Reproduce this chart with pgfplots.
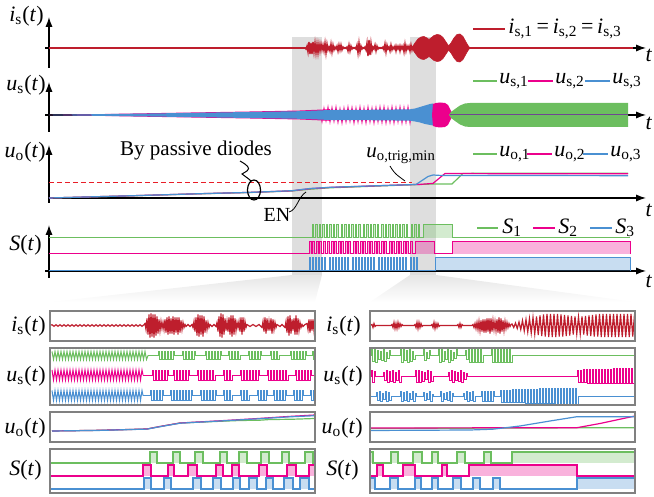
\documentclass[border=0pt]{standalone}
\usepackage{fontspec}
\setmainfont{Liberation Serif}
\usepackage{pgfplots}
\pgfplotsset{compat=1.18}
\usetikzlibrary{arrows.meta}
\definecolor{cred}{RGB}{190,30,45}
\definecolor{cgreen}{RGB}{108,190,95}
\definecolor{cpink}{RGB}{236,0,140}
\definecolor{cblue}{RGB}{74,144,210}
\definecolor{hl}{RGB}{222,222,222}
\definecolor{framegray}{RGB}{128,128,128}
\definecolor{dashred}{RGB}{232,30,40}
\newcommand{\vi}[1]{\textit{#1}}
\newcommand{\sub}[1]{\textsubscript{#1}}
\pgfplotsset{
  topax/.style={scale only axis, width=298.5pt, xmin=49, xmax=646, clip=false, no markers,
    axis x line*=middle, axis y line*=left, xtick=\empty, ytick=\empty,
    axis line style={line width=0.6pt, -{Latex[length=5pt,width=3.6pt]}},
    anchor=south west},
  botax/.style={scale only axis, width=132.5pt, clip=false, hide axis, no markers, anchor=south west},
}
\begin{document}
\begin{tikzpicture}[x=0.5pt,y=-0.5pt,font=\fontsize{11}{13}\selectfont]
\useasboundingbox (0,0) rectangle (654,497);
% highlight regions and fans
\fill[hl] (292,37) rectangle (322,275);
\fill[hl] (410,37) rectangle (436,275);
\shade[top color=black!10, bottom color=white] (292,275) -- (322,275) -- (315,302) -- (50,302) -- cycle;
\shade[top color=black!10, bottom color=white] (410,275) -- (436,275) -- (635,302) -- (370,302) -- cycle;

% ---------------- top: i_s
\begin{axis}[topax, at={(24.5pt,-34pt)}, height=25.5pt, ymin=-20, ymax=31]
\addplot[cred, line width=0.9pt] coordinates {(49,0)(633,0)};
\addplot[cred, line width=0.7pt] coordinates {(305,0.5)(306,-1)(307,2)(308,-4)(309,6)(310,-6)(311,5)(312,-6)(313,6)(314,-4)(315,5)(316,-5)(317,4)(318,-5)(319,4)(320,-3)(321,4)(322,-2)(323,3)(324,-3)(325,5)(326,-5)(327,4)(328,-2)(329,1)(330,-3)(331,4)(332,-4)(333,3)(334,-2)(335,1)(336,-1)(337,2)(338,-3)(339,3)(340,-2)(341,3)(342,-2)(343,1)(344,-0.5)(345,0.5)(346,-0.5)(347,1)(348,-3)(349,3)(350,-3)(351,2)(352,-1)(353,0.5)(354,-0.5)(355,0.5)(356,-1)(357,3)(358,-5)(359,5)(360,-4)(361,2)(362,-1)(363,0.5)(364,-0.5)(365,1)(366,-2)(367,5)(368,-8)(369,8)(370,-7)(371,5)(372,-3)(373,1)(374,-1)(375,3)(376,-3)(377,2)(378,-1)(379,0.5)(380,-0.5)(381,0.5)(382,-0.5)(383,1)(384,-2)(385,4)(386,-4)(387,3)(388,-1)(389,1)(390,-3)(391,3)(392,-2)(393,1)(394,-1)(395,2)(396,-3)(397,2)(398,-1)(399,2)(400,-3)(401,2)(402,-1)(403,2)(404,-4)(405,4)(406,-3)(407,2)(408,-1)(409,2)(410,-3)(411,3)(412,-2)(413,2)};
\addplot[draw=cred, fill=cred, line width=0.3pt] coordinates {(411,0)(413,2)(415,5)(418,9)(421,11)(424,11.5)(427,10)(429,8.5)(431,10)(434,12.5)(437,13.5)(440,13)(443,10.5)(446,6)(448,3)(449,2.5)(451,5)(454,10)(457,13.5)(460,14)(463,11.5)(466,6)(468,2.5)(470,0)(468,-2.5)(466,-6)(463,-11.5)(460,-14)(457,-13.5)(454,-10)(451,-5)(449,-2.5)(448,-3)(446,-6)(443,-10.5)(440,-13)(437,-13.5)(434,-12.5)(431,-10)(429,-8.5)(427,-10)(424,-11.5)(421,-11)(418,-9)(415,-5)(413,-2)(411,0)};
\end{axis}

% ---------------- top: u_s
\begin{axis}[topax, at={(24.5pt,-66pt)}, height=25pt, ymin=-17, ymax=33]
\addplot[fill=cpink, draw=none] coordinates {(49,0)(150,1.8)(250,3.5)(300,4.5)(330,5.8)(330,-5.8)(300,-4.5)(250,-3.5)(150,-1.8)(49,0)};
\addplot[cpink, line width=0.6pt] coordinates {(320,5)(322,-6)(324,6)(326,-5)(328,7)(330,-6)(332,6.5)(334,-5.5)(336,7)(338,-6.5)(340,5.5)(342,-7)(344,6)(346,-6)(348,7)(350,-5.5)(352,6.5)(354,-7)(356,6)(358,-6)(360,7)(362,-6.5)(364,6)(366,-7)(368,7)(370,-6)(372,6)(374,-7)(376,6.5)(378,-6)(380,7)(382,-6.5)(384,7)(386,-7)(388,6)(390,-6.5)(392,7)(394,-7)(396,6.5)(398,-6)(400,7)(402,-7)(404,6.5)(406,-6.5)(408,7)(410,-7)(412,6)};
\addplot[fill=cblue, draw=none] coordinates {(49,0.2)(150,1.5)(250,3)(300,3.8)(330,5)(380,5.3)(410,5.7)(415,6.5)(420,8)(425,9.5)(430,11)(433,11.5)(433,-10.5)(430,-10)(425,-9)(420,-7.5)(415,-6.5)(410,-5.7)(380,-5.3)(330,-5)(300,-3.8)(250,-3)(150,-1.5)(49,-0.2)};
\addplot[fill=cpink, draw=none] coordinates {(432,0)(433,11)(436,12)(440,12.5)(445,12)(448,10)(450,6)(452,2)(452,-2)(450,-6)(448,-10)(445,-12)(440,-12.5)(436,-12)(433,-11)};
\addplot[fill=cgreen, draw=none] coordinates {(449,0)(451,3)(455,6)(460,9.5)(465,11.5)(470,12)(628,12)(628,-12)(470,-12)(465,-11.5)(460,-9.5)(455,-6)(451,-3)};
\addplot[color=cblue!60!cpink!80!black, line width=0.5pt] coordinates {(450,0)(628,0)};
\end{axis}

% ---------------- top: u_o
\begin{axis}[topax, at={(24.5pt,-101.5pt)}, height=29pt, ymin=-5, ymax=53]
\addplot[dashred, line width=0.6pt, dash pattern=on 2.4pt off 1.6pt] coordinates {(49,15.7)(412,15.7)};
\addplot[cgreen, line width=0.6pt] coordinates {(49,0)(133,2.2)(200,4.2)(250,5.5)(292,7)(310,8.8)(330,10.2)(360,11.3)(400,12.8)(433,14)(452,14)(463,24.6)(500,24.8)(628,24.8)};
\addplot[cpink, line width=0.6pt] coordinates {(49,0)(133,2.3)(200,4.3)(250,5.6)(292,7.2)(310,9.3)(330,10.6)(360,11.6)(400,13)(420,13.6)(433,14.6)(445,24.5)(500,24.3)(628,24.2)};
\addplot[cblue, line width=0.6pt] coordinates {(49,0)(133,2.3)(200,4.3)(250,5.6)(292,7.3)(310,9.5)(330,10.7)(360,11.7)(400,13)(416,13.5)(428,21.5)(433,23)(440,22.6)(628,22.3)};
\end{axis}

% ---------------- top: S
\begin{axis}[topax, at={(24.5pt,-139pt)}, height=26.5pt, ymin=-7, ymax=46]
\addplot[const plot, draw=cgreen, fill=cgreen, fill opacity=0.3, line width=0.5pt] coordinates {(49,33)(312,46)(313.5,33)(315.5,46)(317,33)(319,46)(320.5,33)(322.5,46)(324,33)(326,46)(327.5,33)(329.5,46)(331,33)(333,46)(334.5,33)(336.5,46)(338,33)(341,46)(342.5,33)(344.5,46)(346,33)(348,46)(349.5,33)(351.5,46)(353,33)(355,46)(356.5,33)(358.5,46)(360,33)(363,46)(364.5,33)(366.5,46)(368,33)(370,46)(371.5,33)(373.5,46)(375,33)(377,46)(378.5,33)(381.5,46)(383,33)(385,46)(386.5,33)(388.5,46)(390,33)(392,46)(393.5,33)(395.5,46)(397,33)(399,46)(400.5,33)(402.5,46)(404,33)(406,46)(407.5,33)(411,46)(412.5,33)(414.5,46)(416,33)(418,46)(419.5,33)(423,46)(452,33)(630,33)};
\addplot[const plot, draw=cpink, fill=cpink, fill opacity=0.3, line width=0.5pt] coordinates {(49,17)(309,29)(311,17)(312.5,29)(314.5,17)(316,29)(318,17)(319.5,29)(321.5,17)(323,29)(325,17)(327.5,29)(329.5,17)(331,29)(333,17)(334.5,29)(336.5,17)(338,29)(340,17)(341.5,29)(343.5,17)(345,29)(347,17)(348.5,29)(350.5,17)(353,29)(355,17)(356.5,29)(358.5,17)(360,29)(362,17)(363.5,29)(365.5,17)(367,29)(369,17)(370.5,29)(372.5,17)(374,29)(376,17)(377.5,29)(379.5,17)(381,29)(383,17)(384.5,29)(386.5,17)(389,29)(391,17)(392.5,29)(394.5,17)(396,29)(398,17)(399.5,29)(401.5,17)(403,29)(405,17)(406.5,29)(408.5,17)(410,29)(412,17)(415,29)(434,17)(452,29)(630,29)(630,17)};
\addplot[const plot, draw=cblue, fill=cblue, fill opacity=0.3, line width=0.5pt] coordinates {(49,0)(309,13)(310.5,0)(312,13)(313.5,0)(315,13)(316.5,0)(318,13)(319.5,0)(321,13)(322.5,0)(324,13)(325.5,0)(329,13)(330.5,0)(332,13)(333.5,0)(335,13)(336.5,0)(338,13)(339.5,0)(341,13)(342.5,0)(344,13)(345.5,0)(347,13)(348.5,0)(352,13)(353.5,0)(355,13)(356.5,0)(358,13)(359.5,0)(361,13)(362.5,0)(364,13)(365.5,0)(367,13)(368.5,0)(370,13)(371.5,0)(373,13)(374.5,0)(378,13)(379.5,0)(381,13)(382.5,0)(384,13)(385.5,0)(387,13)(388.5,0)(390,13)(391.5,0)(393,13)(394.5,0)(396,13)(397.5,0)(399,13)(400.5,0)(402,13)(403.5,0)(405,13)(406.5,0)(410,13)(411.5,0)(413,13)(414.5,0)(416,13)(417.5,0)(435,13)(630,13)(630,0)};
\end{axis}

% ================= bottom left
\begin{axis}[botax, at={(25pt,-170.5pt)}, height=15pt, xmin=50, xmax=315, ymin=-15.5, ymax=14.5]
\addplot[cred, line width=0.6pt] coordinates {(50,0)(52,0.8)(54,-0.8)(56,0.8)(58,-0.8)(60,0.8)(62,-0.8)(64,0.8)(66,-0.8)(68,0.8)(70,-0.8)(72,0.8)(74,-0.8)(76,0.8)(78,-0.8)(80,0.8)(82,-0.8)(84,0.8)(86,-0.8)(88,0.8)(90,-0.8)(92,0.8)(94,-0.8)(96,0.8)(98,-0.8)(100,0.8)(102,-0.8)(104,0.8)(106,-0.8)(108,0.8)(110,-0.8)(112,0.8)(114,-0.8)(116,0.8)(118,-0.8)(120,0.8)(122,-0.8)(124,0.8)(126,-0.8)(128,0.8)(130,-0.8)(132,0.8)(134,-0.8)(136,0.8)(138,-0.8)(140,0.8)(142,-0.8)(144,0.8)(145,2)(146,-4)(147,7)(148,-9)(149,11)(150,-12)(151,12)(152,-11)(153,11)(154,-12)(155,11)(156,-10)(157,9)(158,-8)(159,6)(160,-5)(161,4)(162,-3)(163,3)(164,-4)(165,6)(166,-7)(167,8)(168,-9)(169,9)(170,-8)(171,7)(172,-8)(173,9)(174,-9)(175,8)(176,-7)(177,8)(178,-9)(179,8)(180,-7)(181,5)(182,-4)(183,3)(184,-2)(185,1)(186,-1)(188,1)(190,-1)(192,1)(193,-2)(194,4)(195,-6)(196,8)(197,-10)(198,11)(199,-11)(200,10)(201,-9)(202,10)(203,-11)(204,9)(205,-7)(206,5)(207,-4)(208,3)(209,-2)(210,1)(212,-1)(214,1)(216,-1)(217,3)(218,-6)(219,9)(220,-11)(221,12)(222,-12)(223,11)(224,-9)(225,7)(226,-5)(227,4)(228,-6)(229,8)(230,-9)(231,10)(232,-11)(233,10)(234,-9)(235,7)(236,-5)(237,3)(238,-2)(239,4)(240,-6)(241,8)(242,-9)(243,8)(244,-6)(245,4)(246,-2)(247,1)(250,-1)(253,1)(256,-1)(259,1)(262,-2)(263,4)(264,-6)(265,8)(266,-8)(267,7)(268,-5)(269,4)(270,-5)(271,7)(272,-8)(273,6)(274,-4)(275,3)(276,-2)(277,1)(280,-1)(282,1)(285,-2)(286,4)(287,-7)(288,9)(289,-10)(290,10)(291,-8)(292,6)(293,-5)(294,7)(295,-9)(296,10)(297,-9)(298,7)(299,-5)(300,3)(301,-2)(302,1)(303,-1)(305,1)(307,2)(308,-4)(309,6)(310,-7)(311,6)(312,-5)(313,6)(314,-5)(315,3)};
\end{axis}

\begin{axis}[botax, at={(25pt,-202.5pt)}, height=28.5pt, xmin=50, xmax=315, ymin=0, ymax=57]
\addplot[cgreen, line width=0.5pt] coordinates {(52,53.5)(53.5,45.5)(55,53.5)(56.5,45.5)(58,53.5)(59.5,45.5)(61,53.5)(62.5,45.5)(64,53.5)(65.5,45.5)(67,53.5)(68.5,45.5)(70,53.5)(71.5,45.5)(73,53.5)(74.5,45.5)(76,53.5)(77.5,45.5)(79,53.5)(80.5,45.5)(82,53.5)(83.5,45.5)(85,53.5)(86.5,45.5)(88,53.5)(89.5,45.5)(91,53.5)(92.5,45.5)(94,53.5)(95.5,45.5)(97,53.5)(98.5,45.5)(100,53.5)(101.5,45.5)(103,53.5)(104.5,45.5)(106,53.5)(107.5,45.5)(109,53.5)(110.5,45.5)(112,53.5)(113.5,45.5)(115,53.5)(116.5,45.5)(118,53.5)(119.5,45.5)(121,53.5)(122.5,45.5)(124,53.5)(125.5,45.5)(127,53.5)(128.5,45.5)(130,53.5)(131.5,45.5)(133,53.5)(134.5,45.5)(136,53.5)(137.5,45.5)(139,53.5)(140.5,45.5)(142,53.5)(143.5,45.5)(145,53.5)(146.5,45.5)(148,49.5)};
\addplot[const plot, cgreen, line width=0.4pt] coordinates {(148,49.5)(158,53.5)(159.5,45.5)(161,53.5)(162.5,45.5)(164,53.5)(165.5,45.5)(167,53.5)(168.5,45.5)(170,53.5)(171.5,45.5)(173,53.5)(174.5,49.5)(182,53.5)(183.5,45.5)(185,53.5)(186.5,45.5)(188,53.5)(189.5,45.5)(191,53.5)(192.5,45.5)(194,53.5)(195.5,49.5)(205,53.5)(206.5,45.5)(208,53.5)(209.5,45.5)(211,53.5)(212.5,45.5)(214,53.5)(215.5,45.5)(217,53.5)(218.5,45.5)(220,53.5)(221.5,49.5)(228,53.5)(229.5,45.5)(231,53.5)(232.5,45.5)(234,53.5)(235.5,45.5)(237,53.5)(238.5,45.5)(240,49.5)(248,53.5)(249.5,45.5)(251,53.5)(252.5,45.5)(254,53.5)(255.5,45.5)(257,53.5)(258.5,45.5)(260,53.5)(261.5,49.5)(270,53.5)(271.5,45.5)(273,53.5)(274.5,45.5)(276,53.5)(277.5,45.5)(279,49.5)(290,53.5)(291.5,45.5)(293,53.5)(294.5,45.5)(296,53.5)(297.5,45.5)(299,53.5)(300.5,45.5)(302,53.5)(303.5,45.5)(305,53.5)(306.5,49.5)(312,53.5)(313.5,45.5)(315,45.5)};
\addplot[cpink, line width=0.5pt] coordinates {(52,35)(53.5,25)(55,35)(56.5,25)(58,35)(59.5,25)(61,35)(62.5,25)(64,35)(65.5,25)(67,35)(68.5,25)(70,35)(71.5,25)(73,35)(74.5,25)(76,35)(77.5,25)(79,35)(80.5,25)(82,35)(83.5,25)(85,35)(86.5,25)(88,35)(89.5,25)(91,35)(92.5,25)(94,35)(95.5,25)(97,35)(98.5,25)(100,35)(101.5,25)(103,35)(104.5,25)(106,35)(107.5,25)(109,35)(110.5,25)(112,35)(113.5,25)(115,35)(116.5,25)(118,35)(119.5,25)(121,35)(122.5,25)(124,35)(125.5,25)(127,35)(128.5,25)(130,35)(131.5,25)(133,35)(134.5,25)(136,35)(137.5,25)(139,35)(140.5,25)(142,35)(143,30)};
\addplot[const plot, cpink, line width=0.4pt] coordinates {(143,30)(152,35)(153.5,25)(155,35)(156.5,25)(158,35)(159.5,25)(161,35)(162.5,25)(164,35)(165.5,25)(167,35)(168.5,30)(173,35)(174.5,25)(176,35)(177.5,25)(179,35)(180.5,25)(182,35)(183.5,25)(185,35)(186.5,25)(188,35)(189.5,30)(197,35)(198.5,25)(200,35)(201.5,25)(203,35)(204.5,25)(206,35)(207.5,25)(209,35)(210.5,25)(212,35)(213.5,25)(215,30)(223,35)(224.5,25)(226,35)(227.5,25)(229,35)(230.5,25)(232,30)(240,35)(241.5,25)(243,35)(244.5,25)(246,35)(247.5,25)(249,35)(250.5,25)(252,35)(253.5,25)(255,35)(256.5,25)(258,35)(259.5,30)(267,35)(268.5,25)(270,35)(271.5,25)(273,35)(274.5,25)(276,35)(277.5,25)(279,35)(280.5,25)(282,35)(283.5,25)(285,35)(286.5,25)(288,30)(295,35)(296.5,25)(298,35)(299.5,25)(301,35)(302.5,25)(304,35)(305.5,25)(307,35)(308.5,25)(310,35)(311.5,30)(315,30)};
\addplot[cblue, line width=0.5pt] coordinates {(52,14.5)(53.5,4.5)(55,14.5)(56.5,4.5)(58,14.5)(59.5,4.5)(61,14.5)(62.5,4.5)(64,14.5)(65.5,4.5)(67,14.5)(68.5,4.5)(70,14.5)(71.5,4.5)(73,14.5)(74.5,4.5)(76,14.5)(77.5,4.5)(79,14.5)(80.5,4.5)(82,14.5)(83.5,4.5)(85,14.5)(86.5,4.5)(88,14.5)(89.5,4.5)(91,14.5)(92.5,4.5)(94,14.5)(95.5,4.5)(97,14.5)(98.5,4.5)(100,14.5)(101.5,4.5)(103,14.5)(104.5,4.5)(106,14.5)(107.5,4.5)(109,14.5)(110.5,4.5)(112,14.5)(113.5,4.5)(115,14.5)(116.5,4.5)(118,14.5)(119.5,4.5)(121,14.5)(122.5,4.5)(124,14.5)(125.5,4.5)(127,14.5)(128.5,4.5)(130,14.5)(131.5,4.5)(133,14.5)(134.5,4.5)(136,14.5)(137.5,4.5)(139,14.5)(140.5,4.5)(142,14.5)(143,9.5)};
\addplot[const plot, cblue, line width=0.4pt] coordinates {(143,9.5)(150,14.5)(151.5,4.5)(153,14.5)(154.5,4.5)(156,14.5)(157.5,4.5)(159,14.5)(160.5,4.5)(162,14.5)(163.5,9.5)(170,14.5)(171.5,4.5)(173,14.5)(174.5,4.5)(176,14.5)(177.5,4.5)(179,14.5)(180.5,4.5)(182,14.5)(183.5,4.5)(185,14.5)(186.5,4.5)(188,14.5)(189.5,4.5)(191,14.5)(192.5,9.5)(200,14.5)(201.5,4.5)(203,14.5)(204.5,4.5)(206,14.5)(207.5,4.5)(209,14.5)(210.5,4.5)(212,14.5)(213.5,4.5)(215,14.5)(216.5,9.5)(223,14.5)(224.5,4.5)(226,14.5)(227.5,4.5)(229,14.5)(230.5,4.5)(232,9.5)(240,14.5)(241.5,4.5)(243,14.5)(244.5,4.5)(246,14.5)(247.5,4.5)(249,9.5)(257,14.5)(258.5,4.5)(260,14.5)(261.5,4.5)(263,14.5)(264.5,4.5)(266,14.5)(267.5,9.5)(273,14.5)(274.5,4.5)(276,14.5)(277.5,4.5)(279,14.5)(280.5,4.5)(282,14.5)(283.5,4.5)(285,14.5)(286.5,9.5)(293,14.5)(294.5,4.5)(296,14.5)(297.5,4.5)(299,14.5)(300.5,4.5)(302,14.5)(303.5,9.5)(310,14.5)(311.5,4.5)(313,14.5)(314.5,4.5)(315,4.5)};
\end{axis}

\begin{axis}[botax, at={(25pt,-221pt)}, height=15pt, xmin=50, xmax=315, ymin=0, ymax=30]
\addplot[cgreen, line width=0.6pt] coordinates {(52,11)(100,11.7)(147,13)(160,15.5)(180,19)(227,21)(240,21.5)(260,21.8)(270,22.5)(290,22.7)(300,23)(315,23.5)};
\addplot[cpink, line width=0.6pt] coordinates {(52,11)(100,11.7)(147,13)(160,15.5)(180,19)(227,21.6)(260,23.6)(290,25.6)(315,27)};
\addplot[cblue, line width=0.6pt] coordinates {(52,11)(100,11.6)(147,12.9)(160,15.3)(180,18.8)(227,21.4)(260,23.3)(290,25.2)(315,26.3)};
\end{axis}

\begin{axis}[botax, at={(25pt,-246.5pt)}, height=22pt, xmin=50, xmax=315, ymin=0, ymax=44]
\addplot[const plot, draw=cgreen, fill=cgreen, fill opacity=0.3, line width=0.6pt] coordinates {(50,30)(150,41)(157,30)(173,41)(180,30)(195,41)(203,30)(220,41)(227,30)(239,41)(247,30)(261,41)(269,30)(282,41)(289,30)(305,41)(313,30)(315,30)};
\addplot[const plot, draw=cpink, fill=cpink, fill opacity=0.3, line width=0.6pt] coordinates {(50,17)(143,28)(151,17)(168,28)(174,17)(188,28)(197,17)(216,28)(223,17)(232,28)(239,17)(259,28)(267,17)(287,28)(296,17)(309,28)(315,28)(315,17)};
\addplot[const plot, draw=cblue, fill=cblue, fill opacity=0.3, line width=0.6pt] coordinates {(50,4)(144,15)(151,4)(164,15)(171,4)(193,15)(201,4)(213,15)(221,4)(233,15)(240,4)(249,15)(257,4)(266,15)(273,4)(284,15)(293,4)(300,15)(309,4)(315,4)};
\end{axis}

% ================= bottom right
\begin{axis}[botax, at={(185pt,-170.5pt)}, height=15pt, xmin=370, xmax=635, ymin=-15.5, ymax=14.5]
\addplot[cred, line width=0.6pt] coordinates {(370,0)(372,1)(373,-2)(374,2)(375,-1)(376,0)(391,0)(392,1)(393,-2)(394,3)(395,-3)(396,2)(397,-3)(398,3)(399,-2)(400,2)(401,-1)(402,1)(403,0)(414,0)(415,1)(416,-2)(417,3)(418,-3)(419,3)(420,-2)(421,2)(422,-1)(423,0)(431,0)(432,1)(433,-2)(434,3)(435,-3)(436,2)(437,-2)(438,2)(439,-1)(440,0)(457,0)(458,1)(459,-2)(460,2)(461,-2)(462,1)(463,0)(472,0)(473,1)(474,-2)(475,2)(476,-3)(477,3)(478,-4)(479,4)(480,-5)(481,5)(482,-6)(483,6)(484,-7)(485,6)(486,-7)(487,7)(488,-6)(489,7)(490,-8)(491,7)(492,-6)(493,5)(494,-4)(495,4)(496,-5)(497,6)(498,-7)(499,8)(500,-8)(501,7)(502,-6)(503,5)(504,-5)(505,4)(506,-3)(507,3)(508,-2)(509,2)(510,-1)(511,1)(512,1.5)(513.75,-2)(515.5,2.5)(517.25,-3)(519,3.5)(520.75,-4)(522.5,5)(524.25,-5.5)(526,6)(527.75,-6.5)(529.5,7)(531.25,-7.5)(533,8)(534.75,-8.5)(536.5,9)(538.25,-9.5)(540,10)(541.75,-10.5)(543.5,11)(545.25,-11)(547,11.5)(548.75,-11.5)(550.5,11.5)(552.25,-11.5)(554,11.5)(555.75,-11.5)(557.5,11.5)(559.25,-11)(561,11)(562.75,-11)(564.5,10.5)(566.25,-10.5)(568,10)(569.75,-10)(571.5,9.5)(573.25,-9)(575,9)(576.75,-8.5)(578.5,8.5)(580.25,-8.5)(582,9)(583.75,-9)(585.5,9.5)(587.25,-10)(589,10)(590.75,-10.5)(592.5,10.5)(594.25,-11)(596,11)(597.75,-11)(599.5,11.5)(601.25,-11.5)(603,11.5)(604.75,-11.5)(606.5,11.5)(608.25,-11.5)(610,11.5)(611.75,-11.5)(613.5,11.5)(615.25,-11.5)(617,11.5)(618.75,-11.5)(620.5,11.5)(622.25,-11.5)(624,11.5)(625.75,-11.5)(627.5,11.5)(629.25,-11.5)(631,11.5)(632.75,-11)(634.5,11)};
\end{axis}

\begin{axis}[botax, at={(185pt,-202.5pt)}, height=28.5pt, xmin=370, xmax=635, ymin=0, ymax=57]
\addplot[const plot, cgreen, line width=0.4pt] coordinates {(370,50)(371,57)(372.5,44)(374,56)(375.5,43)(377,55)(378.5,46)(380,54)(381.5,45)(383,57)(384.5,44)(386,53)(387.5,47)(389,55)(390.5,50)(400,57)(401.5,43)(403,57)(404.5,45)(406,55)(407.5,43)(409,57)(410.5,44)(412,54)(413.5,46)(415,50)(423,56)(424.5,45)(426,53)(427.5,47)(429,55)(430.5,50)(438,57)(439.5,43)(441,56)(442.5,44)(444,54)(445.5,46)(447,57)(448.5,43)(450,55)(451.5,45)(453,53)(454.5,47)(456,56)(457.5,50)(465,55)(466.5,46)(468,57)(469.5,43)(471,57)(472.5,43)(474,57)(475.5,43)(477,57)(478.5,43)(480,57)(481.5,43)(483,50)(491,57)(492.5,43)(494,57)(495.5,43)(497,57)(498.5,43)(500,57)(501.5,43)(503,57)(504.5,43)(506,57)(507.5,43)(509,57)(510.5,43)(512,50)(635,50)};
\addplot[const plot, cpink, line width=0.4pt] coordinates {(370,29)(371,35)(372.5,23)(374,34)(375.5,29)(383,33)(384.5,25)(386,35)(387.5,23)(389,34)(390.5,24)(392,35)(393.5,23)(395,33)(396.5,25)(398,35)(399.5,23)(401,29)(415,35)(416.5,23)(418,35)(419.5,23)(421,34)(422.5,24)(424,33)(425.5,26)(427,35)(428.5,23)(430,34)(431.5,24)(433,29)(448,33)(449.5,25)(451,35)(452.5,23)(454,34)(455.5,25)(457,33)(458.5,24)(460,35)(461.5,23)(463,33)(464.5,26)(466,32)(467.5,29)(577,35)(578.5,22.5)(580,35)(581.5,22.5)(583,35.5)(584.5,22.5)(586,35.5)(587.5,22)(589,35.5)(590.5,22)(592,35.5)(593.5,22)(595,36)(596.5,22)(598,36)(599.5,22)(601,36)(602.5,22)(604,36)(605.5,21.5)(607,36)(608.5,21.5)(610,36)(611.5,21.5)(613,36.5)(614.5,21.5)(616,36.5)(617.5,21.5)(619,36.5)(620.5,21.5)(622,36.5)(623.5,21.5)(625,36.5)(626.5,21.5)(628,36.5)(629.5,21.5)(631,36.5)(632.5,21.5)(634,36.5)(635,36.5)};
\addplot[const plot, cblue, line width=0.4pt] coordinates {(370,9)(376,13)(377.5,5)(379,14)(380.5,4)(382,12)(383.5,6)(385,14)(386.5,4)(388,13)(389.5,5)(391,9)(400,14)(401.5,4)(403,13)(404.5,5)(406,14)(407.5,4)(409,12)(410.5,6)(412,14)(413.5,4)(415,12)(416.5,9)(423,13)(424.5,5)(426,12)(427.5,6)(429,14)(430.5,4)(432,11)(433.5,9)(440,14)(441.5,4)(443,12)(444.5,6)(446,13)(447.5,5)(449,14)(450.5,4)(452,12)(453.5,9)(463,12)(464.5,6)(466,14)(467.5,4)(469,13)(470.5,5)(472,14)(473.5,4)(475,9)(481,14)(482.5,4)(484,14)(485.5,4)(487,14)(488.5,4)(490,14)(491.5,4)(493,14)(494.5,9)(500,15)(501.5,3)(503,15)(504.5,3)(506,15)(507.5,3)(509,15)(510.5,3)(512,15.5)(513.5,2.5)(515,15.5)(516.5,2.5)(518,15.5)(519.5,2.5)(521,15.5)(522.5,2.5)(524,16)(525.5,2)(527,16)(528.5,2)(530,16)(531.5,2)(533,16)(534.5,2)(536,16)(537.5,2)(539,16.5)(540.5,1.5)(542,16.5)(543.5,1.5)(545,16.5)(546.5,1.5)(548,16.5)(549.5,1.5)(551,16.5)(552.5,1.5)(554,17)(555.5,1)(557,17)(558.5,1)(560,17)(561.5,1)(563,17)(564.5,1)(566,17)(567.5,1)(569,17)(570.5,1)(572,17)(573.5,1)(575,17)(576.5,1)(578,9)(635,9)};
\end{axis}

\begin{axis}[botax, at={(185pt,-221pt)}, height=15pt, xmin=370, xmax=635, ymin=0, ymax=30]
\addplot[cgreen, line width=0.6pt] coordinates {(370,13.5)(520,14)(635,14.3)};
\addplot[cpink, line width=0.6pt] coordinates {(370,14)(577,14.3)(600,18.5)(635,26)};
\addplot[cblue, line width=0.6pt] coordinates {(370,11.5)(470,12)(493,12.8)(520,16)(550,21)(577,25.3)(635,25.3)};
\end{axis}

\begin{axis}[botax, at={(185pt,-246.5pt)}, height=22pt, xmin=370, xmax=635, ymin=0, ymax=44]
\addplot[const plot, draw=cgreen, fill=cgreen, fill opacity=0.3, line width=0.6pt] coordinates {(370,30)(370,41)(373,30)(391,41)(398,30)(413,41)(422,30)(432,41)(438,30)(457,41)(465,30)(484,41)(491,30)(512,41)(635,41)(635,30)};
\addplot[const plot, draw=cpink, fill=cpink, fill opacity=0.3, line width=0.6pt] coordinates {(370,17)(377,28)(383,17)(403,28)(415,17)(442,28)(447,17)(469,28)(577,17)(635,17)};
\addplot[const plot, draw=cblue, fill=cblue, fill opacity=0.3, line width=0.6pt] coordinates {(370,4)(370,15)(375,4)(390,15)(398,4)(415,15)(421,4)(432,15)(438,4)(453,15)(461,4)(473,15)(480,4)(493,15)(500,4)(577,15)(635,15)(635,4)};
\end{axis}

% ---------- frames of the bottom panels
\foreach \xo in {50,370}{
  \draw[framegray, line width=0.9pt] (\xo,311) rectangle ++(265,30);
  \draw[framegray, line width=0.9pt] (\xo,348) rectangle ++(265,57);
  \draw[framegray, line width=0.9pt] (\xo,412) rectangle ++(265,30);
  \draw[framegray, line width=0.9pt] (\xo,449) rectangle ++(265,44);
}

% ---------- baseline ticks
\draw[line width=0.6pt] (45,48)--(49,48);
\draw[line width=0.6pt] (45,115)--(49,115);
\draw[line width=0.6pt] (45,271)--(49,271);

% ---------- labels
\begin{scope}[every node/.style={inner sep=0pt}]
\node[anchor=east] at (44,16) {\vi{i}\sub{s}(\vi{t})};
\node[anchor=east] at (46,85) {\vi{u}\sub{s}(\vi{t})};
\node[anchor=east] at (46,152) {\vi{u}\sub{o}(\vi{t})};
\node[anchor=east] at (42,245) {\vi{S}(\vi{t})};
\node at (649,55) {\vi{t}};
\node at (649,123) {\vi{t}};
\node at (649,210) {\vi{t}};
\node at (649,281) {\vi{t}};
\node[anchor=east] at (46,326) {\vi{i}\sub{s}(\vi{t})};
\node[anchor=east] at (46,376) {\vi{u}\sub{s}(\vi{t})};
\node[anchor=east] at (46,428) {\vi{u}\sub{o}(\vi{t})};
\node[anchor=east] at (42,470) {\vi{S}(\vi{t})};
\node[anchor=east] at (361,326) {\vi{i}\sub{s}(\vi{t})};
\node[anchor=east] at (363,376) {\vi{u}\sub{s}(\vi{t})};
\node[anchor=east] at (363,428) {\vi{u}\sub{o}(\vi{t})};
\node[anchor=east] at (359,470) {\vi{S}(\vi{t})};
% legends
\draw[cred, line width=0.8pt] (473,29)--(505,29);
\node[anchor=west] at (508,29) {\vi{i}\sub{s,1}\,=\,\vi{i}\sub{s,2}\,=\,\vi{i}\sub{s,3}};
\draw[cgreen, line width=0.8pt] (473,81)--(497,81);
\node[anchor=west] at (499,81) {\vi{u}\sub{s,1}};
\draw[cpink, line width=0.8pt] (528,81)--(553,81);
\node[anchor=west] at (555,81) {\vi{u}\sub{s,2}};
\draw[cblue, line width=0.8pt] (585,81)--(610,81);
\node[anchor=west] at (612,81) {\vi{u}\sub{s,3}};
\draw[cgreen, line width=0.8pt] (473,154)--(497,154);
\node[anchor=west] at (499,154) {\vi{u}\sub{o,1}};
\draw[cpink, line width=0.8pt] (527,154)--(552,154);
\node[anchor=west] at (554,154) {\vi{u}\sub{o,2}};
\draw[cblue, line width=0.8pt] (583,154)--(608,154);
\node[anchor=west] at (610,154) {\vi{u}\sub{o,3}};
\draw[cgreen, line width=0.8pt] (477,228)--(498,228);
\node[anchor=west] at (502,228) {\vi{S}\sub{1}};
\draw[cpink, line width=0.8pt] (533,228)--(555,228);
\node[anchor=west] at (558,228) {\vi{S}\sub{2}};
\draw[cblue, line width=0.8pt] (590,228)--(612,228);
\node[anchor=west] at (615,228) {\vi{S}\sub{3}};
% annotations
\node[font=\fontsize{10.5}{12}\selectfont] at (196,150) {By passive diodes};
\draw[line width=0.5pt] (240,161) .. controls (247,165) and (251,168) .. (247,171) -- (242,174) .. controls (246,177) and (249,179) .. (251,181);
\draw[line width=0.6pt] (254,190) ellipse [x radius=6.5, y radius=10];
\node[font=\fontsize{10}{12}\selectfont] at (277,215) {EN};
\draw[line width=0.4pt] (289,212) .. controls (297,210) and (298,197) .. (306,192);
\node[anchor=west, font=\fontsize{10.5}{12}\selectfont] at (366,156) {\vi{u}\sub{o,trig,min}};
\draw[line width=0.4pt] (390,166) .. controls (395,175) and (400,177) .. (405,181);
\end{scope}
\end{tikzpicture}
\end{document}
